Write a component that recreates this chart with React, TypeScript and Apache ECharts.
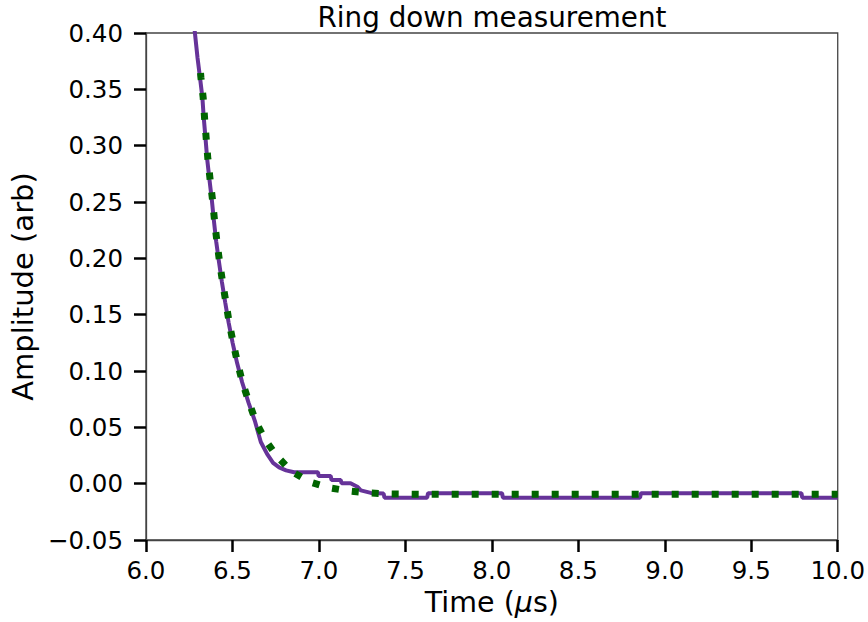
import React, { useEffect, useRef } from "react";
import * as echarts from "echarts";

const titleText = "Ring down measurement";
const xRange = [6.0, 10.0];
const xStep = 0.5;
const yRange = [-0.05, 0.4];
const yStep = 0.05;

// measured ring-down (purple)
const measured: [number, number][] = [
  [6.275, 0.412], [6.283, 0.4], [6.298, 0.378], [6.312, 0.361], [6.326, 0.343],
  [6.334, 0.325], [6.344, 0.307], [6.354, 0.288], [6.367, 0.27], [6.381, 0.2515],
  [6.393, 0.233], [6.406, 0.215], [6.422, 0.197], [6.439, 0.179], [6.458, 0.161],
  [6.478, 0.143], [6.501, 0.125], [6.527, 0.107], [6.556, 0.09], [6.593, 0.072],
  [6.631, 0.055], [6.664, 0.037], [6.7, 0.0265], [6.735, 0.0185], [6.77, 0.0145],
  [6.81, 0.0118], [6.856, 0.0101], [6.995, 0.0101], [6.998, 0.0068], [7.068, 0.0068],
  [7.073, 0.0033], [7.126, 0.0033], [7.131, 0.0004], [7.183, 0.0004], [7.222, -0.0027],
  [7.242, -0.006], [7.3, -0.0082], [7.374, -0.0088], [7.379, -0.0124], [7.626, -0.0124],
  [7.631, -0.0085], [8.059, -0.0085], [8.064, -0.0124], [8.857, -0.0124], [8.862, -0.0085],
  [9.79, -0.0085], [9.795, -0.0124], [10.0, -0.0124],
];

// exponential fit (green dotted)
const fit: [number, number][] = [
  [6.3155, 0.3645], [6.3175, 0.3607], [6.3307, 0.3426], [6.3388, 0.3246],
  [6.348, 0.3068], [6.3579, 0.2882], [6.3711, 0.2696], [6.385, 0.2515], [6.3965, 0.2334],
  [6.4098, 0.2153], [6.4254, 0.197], [6.4427, 0.179], [6.4618, 0.1613], [6.4808, 0.1432],
  [6.5039, 0.1251], [6.5293, 0.1074], [6.5581, 0.0896], [6.5962, 0.0722], [6.6349, 0.055],
  [6.6886, 0.0391], [6.7561, 0.0246], [6.841, 0.011], [6.9426, 0.0018], [7.058, -0.0036],
  [7.1735, -0.0065], [7.2929, -0.0083], [7.4043, -0.0091], [7.6, -0.0094], [8.0, -0.0095],
  [9.0, -0.0095], [10.0, -0.0095],
];

const FONT = "DejaVu Sans";

export default function App() {
  const ref = useRef<HTMLDivElement>(null);
  useEffect(() => {
    if (!ref.current) return;
    const chart = echarts.init(ref.current, undefined, { renderer: "svg" });
    chart.setOption({
      animation: false,
      backgroundColor: "#ffffff",
      title: {
        text: titleText,
        left: 487,
        top: -2,
        textAlign: "center",
        textStyle: { fontFamily: FONT, fontSize: 27.8, fontWeight: "normal", color: "#000" },
      },
      grid: {
        left: 145,
        right: 30,
        top: 33,
        bottom: 82,
        show: true,
        borderColor: "#444",
        borderWidth: 1.3,
        backgroundColor: "transparent",
      },
      xAxis: {
        type: "value",
        min: xRange[0],
        max: xRange[1],
        interval: xStep,
        name: "Time ({i|μ}s)",
        nameLocation: "middle",
        nameGap: 46,
        nameTextStyle: {
          fontFamily: FONT,
          fontSize: 28.5,
          color: "#000",
          rich: { i: { fontFamily: FONT, fontSize: 28.5, fontStyle: "italic", color: "#000" } },
        },
        axisLine: { show: true, onZero: false, lineStyle: { color: "#444", width: 1.3 } },
        axisTick: { show: true, inside: false, length: 12, lineStyle: { color: "#000", width: 2.5 } },
        axisLabel: {
          fontFamily: FONT,
          fontSize: 24.5,
          color: "#000",
          margin: 18,
          formatter: (v: number) => v.toFixed(1),
        },
        splitLine: { show: false },
      },
      yAxis: {
        type: "value",
        min: yRange[0],
        max: yRange[1],
        interval: yStep,
        name: "Amplitude (arb)",
        nameLocation: "middle",
        nameGap: 94,
        nameRotate: 90,
        nameTextStyle: { fontFamily: FONT, fontSize: 29, color: "#000" },
        axisLine: { show: true, onZero: false, lineStyle: { color: "#444", width: 1.3 } },
        axisTick: { show: true, inside: false, length: 12, lineStyle: { color: "#000", width: 2.5 } },
        axisLabel: {
          fontFamily: FONT,
          fontSize: 24.5,
          color: "#000",
          margin: 23,
          formatter: (v: number) => v.toFixed(2).replace("-", "\u2212"),
        },
        splitLine: { show: false },
      },
      series: [
        {
          type: "line",
          data: measured,
          showSymbol: false,
          clip: true,
          lineStyle: { color: "#663399", width: 4 },
          z: 2,
        },
        {
          type: "line",
          data: fit,
          showSymbol: false,
          clip: true,
          lineStyle: { color: "#006400", width: 7, type: [7, 13], cap: "butt" },
          z: 3,
        },
      ],
    });
    return () => chart.dispose();
  }, []);
  return (
    <div
      ref={ref}
      style={{ position: "fixed", left: 0, top: 0, width: 868, height: 622 }}
    />
  );
}
